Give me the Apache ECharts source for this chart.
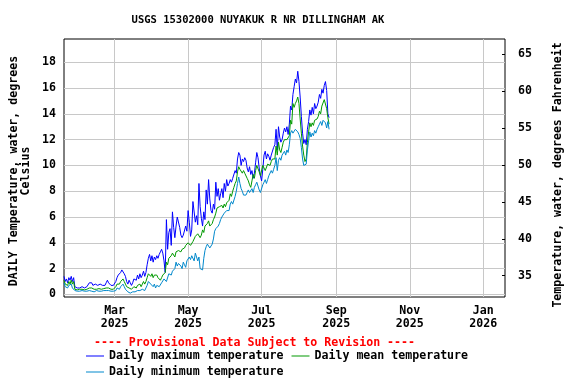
<!DOCTYPE html>
<html>
<head>
<meta charset="utf-8">
<script src="https://cdn.jsdelivr.net/npm/echarts@6/dist/echarts.min.js"></script>
<style>html,body{margin:0;padding:0;background:#fff}#c{width:576px;height:384px}</style>
</head>
<body>
<div id="c"></div>
<script>
// Daily values, one per day starting 2025-01-18
const startDate = [2025, 0, 18];
const maxT = [
 1.4,1.0,1.2,0.9,1.3,1.1,1.4,1.0,1.3,
 0.6,0.5,0.5,0.6,0.5,0.5,0.6,0.5,0.5,0.5,0.6,0.5,
 0.9,0.8,0.9,0.7,0.7,0.8,0.7,0.7,0.7,0.8,0.7,0.7,0.8,0.7,
 0.9,1.1,0.9,0.8,0.7,0.8,0.7,0.6,
 1.0,1.3,1.5,1.4,1.7,1.9,2.0,1.6,
 1.4,1.0,0.8,1.1,0.9,0.7,0.9,1.2,
 1.3,1.1,1.5,1.2,1.6,1.3,1.5,1.8,1.4,1.7,
 2.3,2.8,3.1,2.6,3.0,2.5,2.9,
 2.7,3.0,2.8,3.1,3.3,3.5,3.2,2.6,1.7,
 5.8,3.5,4.8,5.1,3.8,6.4,5.2,4.4,5.3,6.0,5.9,
 5.2,4.6,4.4,4.6,4.5,5.3,4.9,6.5,
 5.6,4.5,5.0,7.2,7.3,5.6,6.1,5.4,8.6,
 6.8,5.9,5.3,6.4,5.8,8.1,7.0,8.9,
 7.4,6.5,6.3,7.0,6.6,8.7,7.6,8.2,7.3,7.8,
 8.2,7.5,8.6,8.0,8.9,8.4,8.6,8.9,8.7,9.0,
 9.1,9.6,9.4,10.5,11.0,10.8,10.0,10.5,10.3,10.6,
 10.4,9.8,9.5,9.9,9.3,9.6,9.0,9.4,10.2,11.0,
 10.6,9.8,9.2,8.8,9.7,10.8,11.1,10.5,10.9,10.7,
 10.4,10.8,10.9,11.4,11.6,12.8,11.2,13.0,12.2,11.8,
 12.0,12.5,12.9,12.6,13.0,12.4,13.2,14.6,14.3,15.5,
 16.1,16.7,16.4,17.3,16.5,15.3,13.8,12.5,11.7,12.0,
 11.6,12.8,13.4,14.3,13.9,14.5,14.0,14.8,14.4,14.6,
 14.9,15.5,15.2,15.9,15.6,16.2,16.5,15.8,14.0,13.7
];
const meanT = [
 1.1,0.8,0.9,0.7,1.0,0.8,1.1,0.8,1.0,
 0.4,0.4,0.35,0.4,0.4,0.35,0.4,0.4,0.35,0.4,0.4,0.35,
 0.5,0.5,0.5,0.45,0.4,0.45,0.4,0.4,0.45,0.5,0.4,0.4,0.45,0.4,
 0.5,0.6,0.5,0.5,0.4,0.45,0.4,0.4,
 0.6,0.8,0.9,0.8,1.0,1.1,1.2,1.0,
 0.8,0.6,0.5,0.5,0.4,0.4,0.5,0.6,
 0.6,0.5,0.7,0.6,0.8,0.6,0.8,1.0,0.8,1.0,
 1.3,1.6,1.7,1.4,1.6,1.3,1.5,
 1.4,1.5,1.3,1.2,1.1,1.3,1.5,1.4,1.7,
 2.5,2.3,2.8,2.9,3.0,3.2,3.1,2.9,3.3,3.4,3.4,
 3.4,3.3,3.5,3.4,3.6,3.8,3.9,4.0,
 4.1,3.8,3.9,4.1,4.2,4.5,4.6,4.7,4.8,
 4.4,4.6,5.0,4.8,5.3,5.4,5.5,5.7,
 5.3,5.2,5.5,5.8,6.0,6.3,6.7,6.6,6.8,6.9,
 6.9,6.7,7.0,6.8,7.1,7.0,7.3,7.8,7.6,8.0,
 8.3,8.6,8.8,9.5,9.9,9.7,9.8,9.4,9.6,9.4,
 9.3,9.0,8.8,8.5,8.3,8.8,9.3,9.0,9.6,10.0,
 9.9,9.5,9.2,9.3,10.0,9.8,9.6,9.7,10.1,10.2,
 10.0,10.3,10.5,10.4,10.5,11.5,10.8,11.8,11.2,11.0,
 11.4,11.8,12.0,11.9,12.0,11.9,12.3,13.5,13.2,14.8,
 14.5,14.8,15.0,15.3,14.8,13.6,12.5,11.5,10.8,10.3,
 10.5,11.8,12.6,13.3,13.0,13.3,13.1,13.5,13.4,13.6,
 13.8,14.2,14.0,14.6,14.5,15.1,15.0,14.4,13.7,13.2
];
const minT = [
 0.9,0.6,0.7,0.5,0.7,0.6,0.8,0.5,0.6,
 0.3,0.25,0.25,0.3,0.25,0.25,0.3,0.25,0.25,0.3,0.25,0.25,
 0.3,0.3,0.25,0.2,0.2,0.25,0.3,0.25,0.25,0.3,0.25,0.25,0.3,0.25,
 0.3,0.35,0.3,0.3,0.25,0.3,0.25,0.25,
 0.3,0.5,0.5,0.4,0.6,0.7,0.8,0.6,
 0.4,0.3,0.2,0.2,0.1,0.1,0.2,0.3,
 0.2,0.15,0.3,0.2,0.3,0.25,0.4,0.5,0.3,0.5,
 0.7,1.0,1.1,0.8,0.9,0.6,0.8,
 0.5,0.7,0.8,0.6,0.7,0.9,1.0,1.2,1.3,
 1.0,1.1,1.6,1.7,1.5,1.8,1.7,2.0,2.5,2.2,2.4,
 2.4,2.2,2.0,2.5,2.3,2.1,2.6,2.6,
 2.9,2.7,3.0,2.9,2.6,3.2,3.3,2.6,2.9,
 2.0,2.1,1.9,2.8,3.4,3.7,3.9,3.8,
 3.6,3.5,3.9,4.3,4.9,5.1,5.0,5.3,5.5,5.8,
 6.0,5.9,6.3,6.2,6.5,6.6,6.5,7.0,7.2,7.0,
 7.1,7.6,8.0,8.6,9.1,8.6,8.2,8.0,7.7,7.6,
 7.7,7.9,8.1,7.9,8.0,8.2,7.9,8.3,8.5,8.7,
 8.6,8.1,7.9,8.0,8.5,8.7,8.9,8.6,8.9,9.2,
 9.3,9.6,9.4,9.7,10.0,10.6,9.6,10.4,10.6,10.4,
 10.8,10.9,11.1,10.8,11.2,11.0,11.6,12.5,12.7,12.5,
 12.6,12.8,12.9,12.6,12.4,12.1,11.4,10.5,10.0,9.9,
 10.1,11.2,11.9,12.6,12.2,12.5,12.3,12.7,12.5,12.8,
 13.0,13.2,13.4,13.1,13.5,13.6,13.3,12.9,13.4,12.8
];
const celsiusTicks = [0, 2, 4, 6, 8, 10, 12, 14, 16, 18];
const fahrenheitTicks = [35, 40, 45, 50, 55, 60, 65];
const xTickDates = [[2025, 2, 1], [2025, 4, 1], [2025, 6, 1], [2025, 8, 1], [2025, 10, 1], [2026, 0, 1]];
const monthNames = ['Jan','Feb','Mar','Apr','May','Jun','Jul','Aug','Sep','Oct','Nov','Dec'];

const FONT = '"DejaVu Sans Mono", monospace';
function dayTs(i) { return new Date(startDate[0], startDate[1], startDate[2] + i).getTime(); }
function pairs(arr) { return arr.map((v, i) => [dayTs(i), v]); }
const xTicks = xTickDates.map(d => new Date(d[0], d[1], d[2]).getTime());

const chart = echarts.init(document.getElementById('c'));
chart.setOption({
  animation: false,
  backgroundColor: '#fff',
  grid: { left: 64, top: 39, width: 441, height: 258, show: true, borderColor: '#000', borderWidth: 1, backgroundColor: 'transparent' },
  xAxis: {
    type: 'value',
    min: new Date(2025, 0, 18).getTime(),
    max: new Date(2026, 0, 19).getTime(),
    axisLine: { show: false },
    axisTick: { show: false, customValues: xTicks },
    splitLine: { show: true, lineStyle: { color: '#c8c8c8', width: 1 } },
    axisLabel: {
      customValues: xTicks,
      margin: 7,
      color: '#000', fontFamily: FONT, fontWeight: 'bold', fontSize: 11.6, lineHeight: 13,
      formatter: v => { const d = new Date(v); return monthNames[d.getMonth()] + '\n' + d.getFullYear(); }
    }
  },
  yAxis: [
    {
      type: 'value', min: -0.2, max: 19.8,
      axisLine: { show: false },
      axisTick: { show: false, customValues: celsiusTicks },
      splitLine: { show: true, lineStyle: { color: '#c8c8c8', width: 1 } },
      axisLabel: { customValues: celsiusTicks, margin: 8, color: '#000', fontFamily: FONT, fontWeight: 'bold', fontSize: 11.6 }
    },
    {
      type: 'value', min: 32.1, max: 67.1, position: 'right',
      axisLine: { show: false },
      axisTick: { show: true, inside: true, length: 3, customValues: fahrenheitTicks, lineStyle: { color: '#000' } },
      splitLine: { show: false },
      axisLabel: { customValues: fahrenheitTicks, margin: 13, color: '#000', fontFamily: FONT, fontWeight: 'bold', fontSize: 11.6 }
    }
  ],
  legend: [
    {
      data: ['Daily maximum temperature', 'Daily mean temperature'],
      left: 86, top: 350, orient: 'horizontal', padding: 0,
      icon: 'rect', itemWidth: 18, itemHeight: 1, itemGap: 8,
      textStyle: { color: '#000', fontFamily: FONT, fontWeight: 'bold', fontSize: 11.6 }
    },
    {
      data: ['Daily minimum temperature'],
      left: 86, top: 366, padding: 0,
      icon: 'rect', itemWidth: 18, itemHeight: 1,
      textStyle: { color: '#000', fontFamily: FONT, fontWeight: 'bold', fontSize: 11.6 }
    }
  ],
  graphic: [
    { type: 'text', x: 258, y: 20, style: { text: 'USGS 15302000 NUYAKUK R NR DILLINGHAM AK', fill: '#000', font: 'bold 10.5px ' + FONT, align: 'center', verticalAlign: 'middle' } },
    { type: 'text', x: 254.5, y: 343, style: { text: '---- Provisional Data Subject to Revision ----', fill: '#ff0000', font: 'bold 11.6px ' + FONT, align: 'center', verticalAlign: 'middle' } },
    { type: 'text', x: 19.5, y: 171, rotation: Math.PI / 2, style: { text: 'DAILY Temperature, water, degrees\nCelsius', fill: '#000', font: 'bold 11.6px ' + FONT, align: 'center', verticalAlign: 'middle', lineHeight: 12 } },
    { type: 'text', x: 557.5, y: 175, rotation: Math.PI / 2, style: { text: 'Temperature, water, degrees Fahrenheit', fill: '#000', font: 'bold 11.6px ' + FONT, align: 'center', verticalAlign: 'middle' } }
  ],
  series: [
    { name: 'Daily maximum temperature', type: 'line', data: pairs(maxT), showSymbol: false, symbol: 'none', color: '#0000ff', lineStyle: { width: 1, color: '#0000ff' } },
    { name: 'Daily mean temperature', type: 'line', data: pairs(meanT), showSymbol: false, symbol: 'none', color: '#009900', lineStyle: { width: 1, color: '#009900' } },
    { name: 'Daily minimum temperature', type: 'line', data: pairs(minT), showSymbol: false, symbol: 'none', color: '#0088cc', lineStyle: { width: 1, color: '#0088cc' } }
  ]
});
</script>
</body>
</html>
